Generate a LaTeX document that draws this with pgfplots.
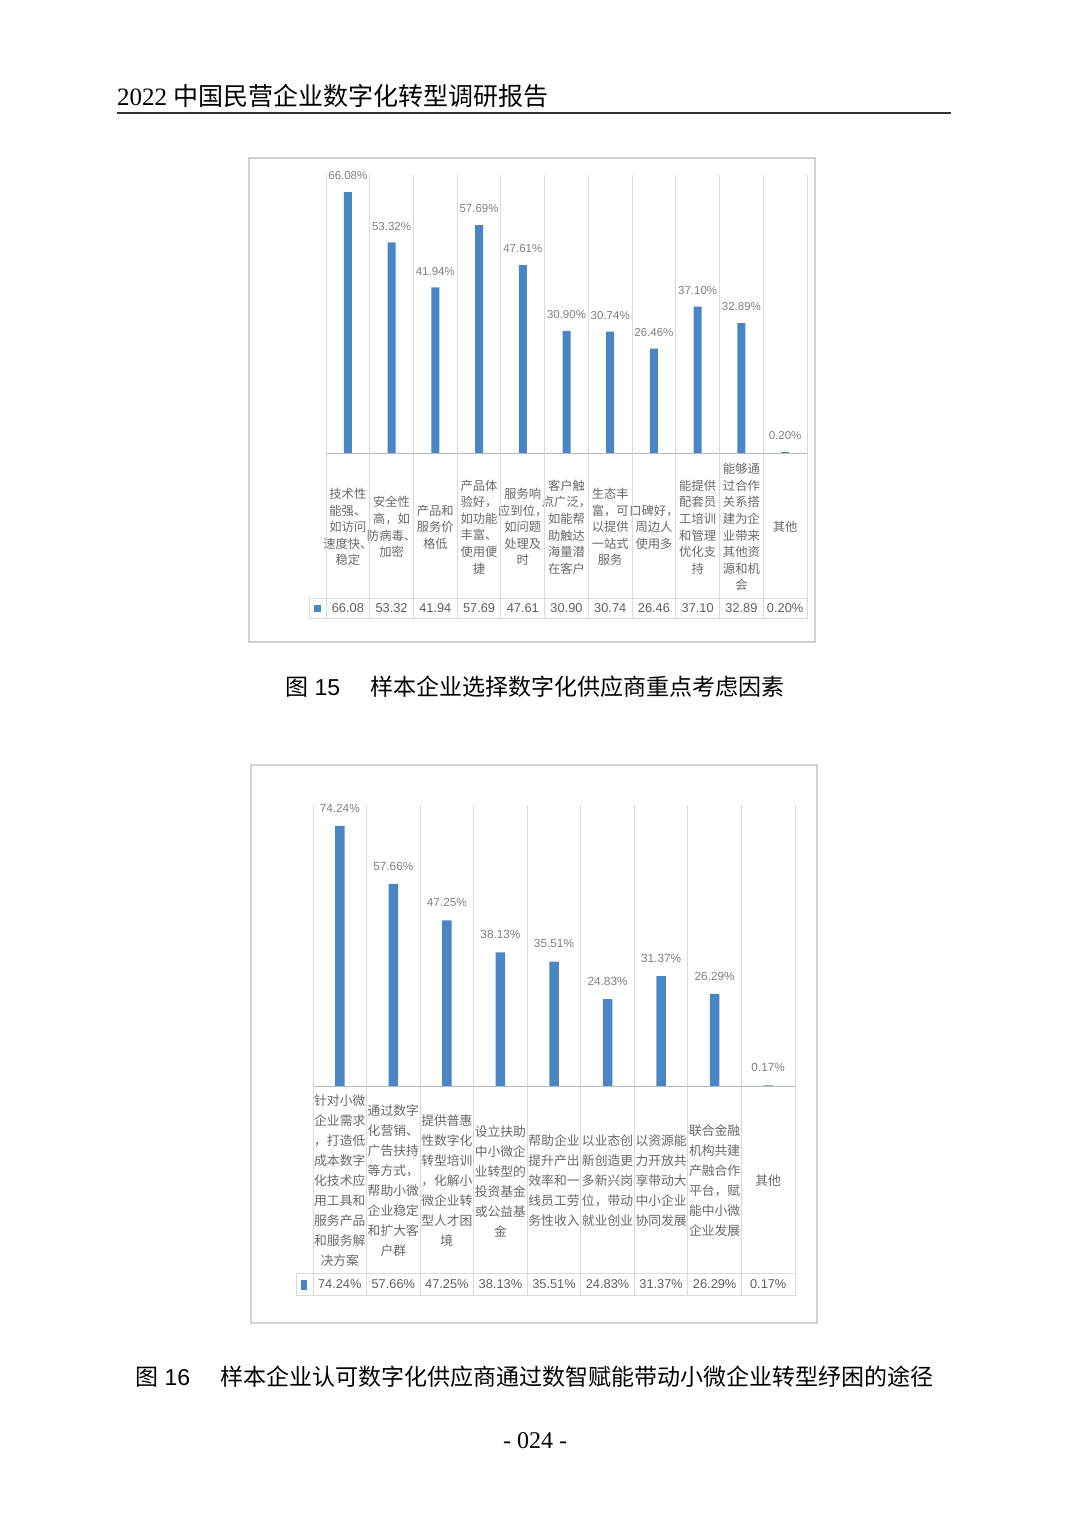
\documentclass[border=0pt]{standalone}
\usepackage{pgfplots}
\usepackage{pgfplotstable}
\pgfplotsset{compat=1.18}
\usepackage{fontspec}
\setmainfont{Liberation Sans}
\newfontfamily\cjk{Noto Sans CJK SC}
\newfontfamily\serif{Liberation Serif}
\definecolor{barblue}{RGB}{74,134,196}
\definecolor{gridgray}{RGB}{218,218,218}
\definecolor{framegray}{RGB}{210,210,210}
\definecolor{lblgray}{RGB}{128,128,128}
\definecolor{valgray}{RGB}{95,95,95}
\definecolor{cjkgray}{RGB}{105,105,105}
\pgfplotstableread{
x y
0 66.08
1 53.32
2 41.94
3 57.69
4 47.61
5 30.90
6 30.74
7 26.46
8 37.10
9 32.89
10 0.20
}\dataA
\pgfplotstableread{
x y
0 74.24
1 57.66
2 47.25
3 38.13
4 35.51
5 24.83
6 31.37
7 26.29
8 0.17
}\dataB
\pgfplotsset{
  pagebar/.style={
    scale only axis, clip=false,
    axis line style={draw=none},
    ymin=0, ytick=\empty,
    major tick length=0pt, minor tick length=0pt,
    xminorgrids, minor grid style={gridgray, line width=1pt},
    /pgf/number format/assume math mode=true,
    ybar,
    nodes near coords={\pgfmathprintnumber[fixed,fixed zerofill,precision=2]{\pgfplotspointmeta}\%},
  }
}
\begin{document}
\begin{tikzpicture}
\path[fill=white] (0,0) rectangle (1080pt,-1518pt);
% header
\node[anchor=base west, inner sep=0] at (117pt,-105pt) {\fontsize{25}{25}\selectfont\serif 2022 {\cjk 中国民营企业数字化转型调研报告}};
\draw[line width=1.3pt, black!80] (117pt,-113pt) -- (951pt,-113pt);

% ===== chart 1 =====
\draw[framegray, line width=1.5pt] (249pt,-158pt) rectangle (815pt,-642pt);
\begin{axis}[pagebar,
  at={(326pt,-453pt)}, anchor=south west,
  width=481pt, height=278pt,
  xmin=-0.5, xmax=10.5, ymax=70.4,
  xtick={0,...,10},
  minor xtick={-0.5,0.5,...,10.5},
  bar width=8pt,
  xticklabels={
    {技术性\\能强、\\如访问\\速度快、\\稳定},
    {安全性\\高，如\\防病毒、\\加密},
    {产品和\\服务价\\格低},
    {产品体\\验好，\\如功能\\丰富、\\使用便\\捷},
    {服务响\\应到位，\\如问题\\处理及\\时},
    {客户触\\点广泛，\\如能帮\\助触达\\海量潜\\在客户},
    {生态丰\\富，可\\以提供\\一站式\\服务},
    {口碑好，\\周边人\\使用多},
    {能提供\\配套员\\工培训\\和管理\\优化支\\持},
    {能够通\\过合作\\关系搭\\建为企\\业带来\\其他资\\源和机\\会},
    {其他}},
  xticklabel style={font=\cjk\fontsize{12.3}{16.6}\selectfont, text=cjkgray, align=center, anchor=center, yshift=-74pt, inner sep=0pt},
  every node near coord/.append style={font=\fontsize{11.5}{12}\selectfont, text=lblgray, anchor=south, inner sep=0pt, yshift=12pt},
]
\addplot[fill=barblue, draw=none] table[x=x,y=y]{\dataA};
\end{axis}
\draw[gray!55, line width=1pt] (326pt,-453pt) -- (807pt,-453pt);
\foreach \k in {0,...,11} \draw[gridgray, line width=1pt] ({326pt+43.727pt*\k},-453pt) -- ({326pt+43.727pt*\k},-618pt);
\draw[gridgray, line width=1pt] (309pt,-598pt) rectangle (807pt,-618pt);
\fill[barblue] (313.5pt,-605pt) rectangle (320.5pt,-612pt);
\foreach \v [count=\i from 0] in {66.08,53.32,41.94,57.69,47.61,30.90,30.74,26.46,37.10,32.89,0.20\%}
  \node[font=\fontsize{12.8}{13}\selectfont, text=valgray, inner sep=0] at ({326pt+43.727pt*(\i+0.5)},-608pt) {\v};
\node[anchor=base west, inner sep=0] at (285pt,-695pt) {\fontsize{23}{23}\selectfont{\cjk 图} 15};
\node[anchor=base west, inner sep=0] at (370pt,-695pt) {\fontsize{23}{23}\selectfont\cjk 样本企业选择数字化供应商重点考虑因素};

% ===== chart 2 =====
\draw[framegray, line width=1.5pt] (251pt,-765pt) rectangle (817pt,-1323pt);
\begin{axis}[pagebar,
  at={(313pt,-1086pt)}, anchor=south west,
  width=482pt, height=281pt,
  xmin=-0.5, xmax=8.5, ymax=80.2,
  xtick={0,...,8},
  minor xtick={-0.5,0.5,...,8.5},
  bar width=9.5pt,
  xticklabels={
    {针对小微\\企业需求\\，打造低\\成本数字\\化技术应\\用工具和\\服务产品\\和服务解\\决方案},
    {通过数字\\化营销、\\广告扶持\\等方式，\\帮助小微\\企业稳定\\和扩大客\\户群},
    {提供普惠\\性数字化\\转型培训\\，化解小\\微企业转\\型人才困\\境},
    {设立扶助\\中小微企\\业转型的\\投资基金\\或公益基\\金},
    {帮助企业\\提升产出\\效率和一\\线员工劳\\务性收入},
    {以业态创\\新创造更\\多新兴岗\\位，带动\\就业创业},
    {以资源能\\力开放共\\享带动大\\中小企业\\协同发展},
    {联合金融\\机构共建\\产融合作\\平台，赋\\能中小微\\企业发展},
    {其他}},
  xticklabel style={font=\cjk\fontsize{12.8}{20}\selectfont, text=cjkgray, align=center, anchor=center, yshift=-95pt, inner sep=0pt},
  every node near coord/.append style={font=\fontsize{11.8}{12}\selectfont, text=lblgray, anchor=south, inner sep=0pt, yshift=13.5pt},
]
\addplot[fill=barblue, draw=none] table[x=x,y=y]{\dataB};
\end{axis}
\draw[gray!55, line width=1pt] (313pt,-1086pt) -- (795pt,-1086pt);
\foreach \k in {0,...,9} \draw[gridgray, line width=1pt] ({313pt+53.556pt*\k},-1086pt) -- ({313pt+53.556pt*\k},-1295pt);
\draw[gridgray, line width=1pt] (296pt,-1273pt) rectangle (795pt,-1295pt);
\fill[barblue] (301pt,-1280pt) rectangle (307pt,-1290pt);
\foreach \v [count=\i from 0] in {74.24\%,57.66\%,47.25\%,38.13\%,35.51\%,24.83\%,31.37\%,26.29\%,0.17\%}
  \node[font=\fontsize{12.8}{13}\selectfont, text=valgray, inner sep=0] at ({313pt+53.556pt*(\i+0.5)},-1284pt) {\v};
\node[anchor=base west, inner sep=0] at (135pt,-1385pt) {\fontsize{23}{23}\selectfont{\cjk 图} 16};
\node[anchor=base west, inner sep=0] at (220pt,-1385pt) {\fontsize{23}{23}\selectfont\cjk 样本企业认可数字化供应商通过数智赋能带动小微企业转型纾困的途径};

% page number
\node[anchor=base, inner sep=0] at (535pt,-1448pt) {\fontsize{24}{24}\selectfont\serif - 024 -};
\end{tikzpicture}
\end{document}
